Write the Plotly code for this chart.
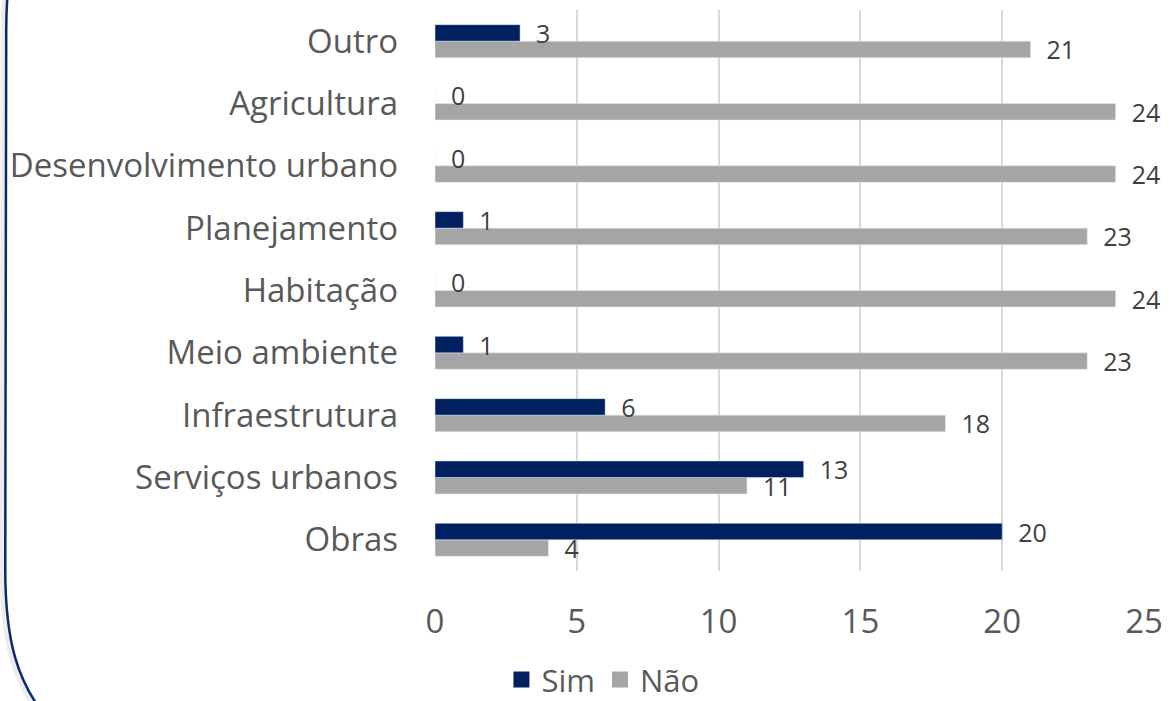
import plotly.graph_objects as go

# Categorias (de baixo para cima, como no gráfico)
categorias = ["Obras", "Serviços urbanos", "Infraestrutura", "Meio ambiente",
              "Habitação", "Planejamento", "Desenvolvimento urbano",
              "Agricultura", "Outro"]
sim = [20, 13, 6, 1, 0, 1, 0, 0, 3]
nao = [4, 11, 18, 23, 24, 23, 24, 24, 21]

eixo_x_ticks = [0, 5, 10, 15, 20, 25]

cor_sim = "#002060"
cor_nao = "#A5A5A5"

W, H = 1173, 701
# área do gráfico em pixels
PL, PR, PT, PB = 435, 1151, 10, 572
L, T, R, B = PL, PT, W - PR, H - PB
fonte = "Open Sans, Noto Sans, sans-serif"


# converte pixel -> coordenadas "paper" (só para a moldura decorativa)
def px(x):
    return (x - PL) / (PR - PL)


def py(y):
    return 1 - (y - PT) / (PB - PT)


def caminho(pts):
    p = [(px(x), py(y)) for x, y in pts]
    return (f"M {p[0][0]},{p[0][1]} "
            f"Q {p[1][0]},{p[1][1]} {p[2][0]},{p[2][1]} "
            f"L {p[3][0]},{p[3][1]} "
            f"C {p[4][0]},{p[4][1]} {p[5][0]},{p[5][1]} {p[6][0]},{p[6][1]}")


fig = go.Figure()

rotulo = dict(size=25, color="#404040", family=fonte)

fig.add_trace(go.Bar(
    y=categorias, x=nao, name="Não", orientation="h",
    marker_color=cor_nao, showlegend=False,
    text=nao, texttemplate="  %{text}", textposition="outside",
    cliponaxis=False, constraintext="none", textfont=rotulo,
    hoverinfo="x+name",
))
fig.add_trace(go.Bar(
    y=categorias, x=sim, name="Sim", orientation="h",
    marker_color=cor_sim, showlegend=False,
    text=sim, texttemplate="  %{text}", textposition="outside",
    cliponaxis=False, constraintext="none", textfont=rotulo,
    hoverinfo="x+name",
))

# entradas da legenda com quadrados maiores
for nome, cor in [("Sim", cor_sim), ("Não", cor_nao)]:
    fig.add_trace(go.Scatter(
        x=[None], y=[None], mode="markers", name=nome,
        marker=dict(symbol="square", size=16, color=cor),
    ))

pts = [(40, -100), (2, -70), (2, 30), (1, 570), (1, 640), (12, 685), (48, 725)]
sombra = [(x - 3, y + 2) for x, y in pts]

fig.update_layout(
    width=W, height=H,
    margin=dict(l=L, r=R, t=T, b=B),
    paper_bgcolor="white", plot_bgcolor="white",
    barmode="group", bargap=0.47, bargroupgap=0,
    font=dict(family=fonte, color="#595959"),
    xaxis=dict(
        range=[0, 25], tickvals=eixo_x_ticks,
        showgrid=True, gridcolor="#D9D9D9", gridwidth=1.5,
        zeroline=False, showline=False,
        tickfont=dict(size=33, color="#595959"),
        ticklabelstandoff=28,
    ),
    yaxis=dict(
        showgrid=False, zeroline=False, showline=False,
        tickfont=dict(size=33, color="#595959"),
        ticklabelstandoff=36,
    ),
    legend=dict(
        orientation="h",
        xref="container", yref="container",
        x=0.514, xanchor="center", y=0.03, yanchor="middle",
        font=dict(size=31, color="#595959"),
        itemwidth=30,
    ),
    shapes=[
        dict(type="path", xref="paper", yref="paper", path=caminho(sombra),
             line=dict(color="rgba(0,0,0,0.07)", width=5), layer="below"),
        dict(type="path", xref="paper", yref="paper", path=caminho(pts),
             line=dict(color="#0A2A6E", width=2.5), layer="above"),
    ],
)

# tira a margem padrão de 8px do <body> para a figura ocupar a janela toda
fig.write_html("out.html", config={"displayModeBar": False},
               post_script="document.body.style.margin='0';")
